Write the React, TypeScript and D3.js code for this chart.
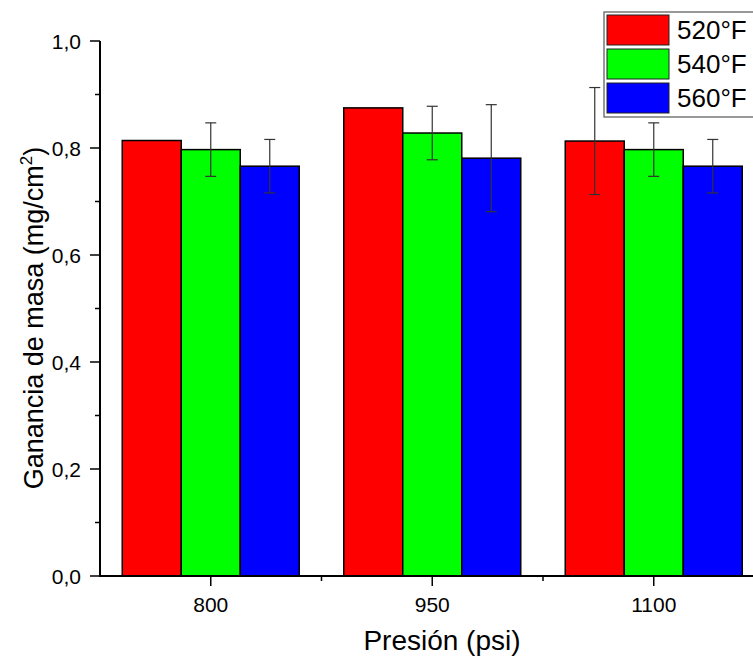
import React from "react";
import * as d3 from "d3";

const categories = ["800", "950", "1100"];
const seriesNames = ["520°F", "540°F", "560°F"];
const seriesColors = ["#ff0000", "#00ff00", "#0000ff"];
const values520 = [0.814, 0.875, 0.813];
const values540 = [0.797, 0.828, 0.797];
const values560 = [0.766, 0.781, 0.766];
const err520 = [0, 0, 0.1];
const err540 = [0.05, 0.05, 0.05];
const err560 = [0.05, 0.1, 0.05];
const yTicks = [0, 0.2, 0.4, 0.6, 0.8, 1.0];

const W = 753, H = 662;
const x0 = 100, x1 = 764.5, yTop = 41, yBottom = 576;

export default function App() {
  const series = [
    { name: seriesNames[0], color: seriesColors[0], vals: values520, errs: err520 },
    { name: seriesNames[1], color: seriesColors[1], vals: values540, errs: err540 },
    { name: seriesNames[2], color: seriesColors[2], vals: values560, errs: err560 },
  ];
  const x = d3.scaleBand<string>().domain(categories).range([x0, x1]).paddingInner(0).paddingOuter(0);
  const bw = 59;
  const y = d3.scaleLinear().domain([0, 1]).range([yBottom, yTop]);
  const minorY = d3.range(0.1, 1.0, 0.2);
  const fmt = (v: number) => v.toFixed(1).replace(".", ",");
  const font = "Arial, 'Liberation Sans', sans-serif";

  return (
    <svg width={W} height={H} style={{ position: "absolute", left: 0, top: 0, background: "#fff" }} fontFamily={font}>
      {/* bars */}
      {categories.map((c, ci) => {
        const cx = (x(c) as number) + x.bandwidth() / 2;
        return series.map((s, si) => {
          const bx = cx - 1.5 * bw + si * bw;
          const v = s.vals[ci];
          return (
            <rect key={c + si} x={bx} y={y(v)} width={bw} height={y(0) - y(v)} fill={s.color} stroke="#000" strokeWidth={1.5} />
          );
        });
      })}
      {/* error bars */}
      {categories.map((c, ci) => {
        const cx = (x(c) as number) + x.bandwidth() / 2;
        return series.map((s, si) => {
          const e = s.errs[ci];
          if (!e) return null;
          const mx = cx - 1.5 * bw + si * bw + bw / 2;
          const v = s.vals[ci];
          return (
            <g key={"e" + c + si} stroke="#333" strokeWidth={1.2}>
              <line x1={mx} x2={mx} y1={y(v + e)} y2={y(v - e)} />
              <line x1={mx - 5.5} x2={mx + 5.5} y1={y(v + e)} y2={y(v + e)} />
              <line x1={mx - 5.5} x2={mx + 5.5} y1={y(v - e)} y2={y(v - e)} />
            </g>
          );
        });
      })}
      {/* y axis */}
      <line x1={x0} x2={x0} y1={yTop} y2={yBottom + 1} stroke="#000" strokeWidth={2} />
      {yTicks.map((t) => (
        <g key={"yt" + t}>
          <line x1={x0 - 10} x2={x0} y1={y(t)} y2={y(t)} stroke="#000" strokeWidth={1.5} />
          <text x={x0 - 19} y={y(t)} dy="0.36em" textAnchor="end" fontSize={21} fill="#000">{fmt(t)}</text>
        </g>
      ))}
      {minorY.map((t) => (
        <line key={"ym" + t} x1={x0 - 5} x2={x0} y1={y(t)} y2={y(t)} stroke="#000" strokeWidth={1.5} />
      ))}
      {/* x axis */}
      <line x1={x0 - 1} x2={x1} y1={yBottom} y2={yBottom} stroke="#000" strokeWidth={2} />
      {categories.map((c) => {
        const cx = (x(c) as number) + x.bandwidth() / 2;
        return (
          <g key={"xt" + c}>
            <line x1={cx} x2={cx} y1={yBottom} y2={yBottom + 10} stroke="#000" strokeWidth={1.5} />
            <text x={cx} y={yBottom + 36} textAnchor="middle" fontSize={21} fill="#000">{c}</text>
          </g>
        );
      })}
      {categories.slice(1).map((c) => (
        <line key={"xm" + c} x1={x(c) as number} x2={x(c) as number} y1={yBottom} y2={yBottom + 5} stroke="#000" strokeWidth={1.5} />
      ))}
      {/* axis titles */}
      <text x={442} y={650} textAnchor="middle" fontSize={28} fill="#000">Presión (psi)</text>
      <text transform={`translate(43, 318) rotate(-90)`} textAnchor="middle" fontSize={27} fill="#000">
        Ganancia de masa (mg/cm<tspan dy="-11" fontSize={17}>2</tspan><tspan dy="11">)</tspan>
      </text>
      {/* legend */}
      <rect x={604} y={12} width={160} height={105} fill="#fff" stroke="#555" strokeWidth={1.2} />
      {series.map((s, i) => (
        <g key={"lg" + i}>
          <rect x={607} y={15 + i * 34} width={62} height={30} fill={s.color} stroke="#222" strokeWidth={1} />
          <text x={677} y={30 + i * 34} dy="0.36em" fontSize={26} fill="#000">{s.name}</text>
        </g>
      ))}
    </svg>
  );
}
